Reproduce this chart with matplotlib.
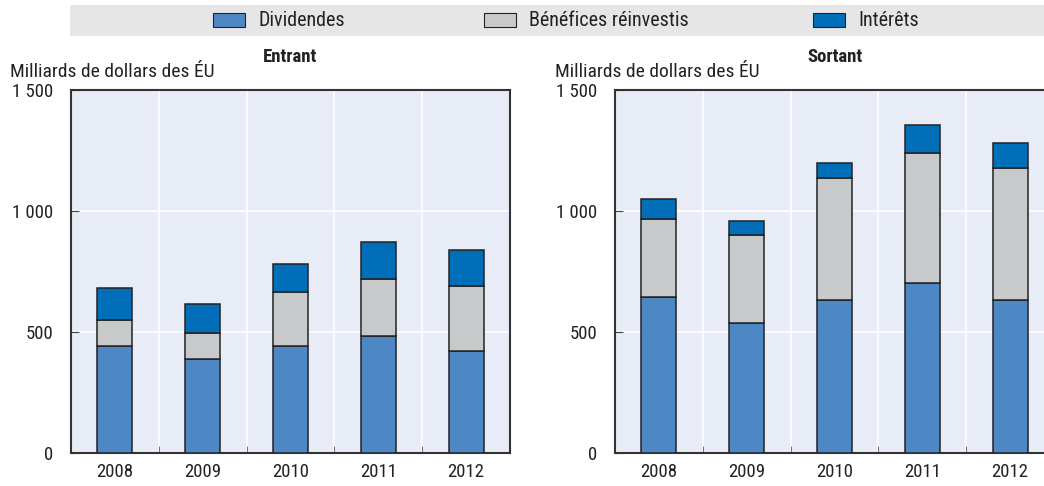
import matplotlib.pyplot as plt
import matplotlib.patches as mpatches
import numpy as np

plt.rcParams['font.family'] = ['Roboto Condensed', 'DejaVu Sans']

years = ['2008', '2009', '2010', '2011', '2012']
series = ['Dividendes', 'Bénéfices réinvestis', 'Intérêts']
colors = ['#4e87c5', '#c8c9cb', '#006eb8']

# Entrant (milliards USD)
in_div = [444, 388, 443, 485, 421]
in_reinv = [105, 107, 221, 236, 269]
in_int = [132, 120, 116, 152, 149]

# Sortant
out_div = [646, 539, 634, 704, 634]
out_reinv = [322, 361, 503, 537, 545]
out_int = [83, 59, 60, 113, 104]

fig = plt.figure(figsize=(10.44, 4.86), dpi=100)
W, H = 1044, 486

def draw(ax, vals, title, ylab_x):
    x = np.arange(len(years))
    bottom = np.zeros(len(years))
    for v, c in zip(vals, colors):
        ax.bar(x, v, 0.4, bottom=bottom, color=c, edgecolor='#222222', linewidth=1.1, zorder=3)
        bottom += np.array(v)
    ax.set_facecolor('#e8ecf7')
    ax.set_xlim(-0.5, 4.5)
    ax.set_ylim(0, 1500)
    ax.set_yticks([0, 500, 1000, 1500])
    ax.set_yticklabels(['0', '500', '1 000', '1 500'])
    ax.set_xticks(x)
    ax.set_xticklabels(years)
    ax.set_xticks(np.arange(0.5, 4.5, 1), minor=True)
    ax.tick_params(axis='x', which='major', length=0, pad=7, labelsize=13.5, labelcolor='#222222')
    ax.tick_params(axis='x', which='minor', direction='in', length=5, color='#555555')
    ax.tick_params(axis='y', direction='in', length=6, pad=13, labelsize=13.5, color='#444444',
                   labelcolor='#222222')
    ax.grid(True, axis='y', color='white', linewidth=1.2, zorder=0)
    ax.grid(True, axis='x', which='minor', color='white', linewidth=1.2, zorder=0)
    for s in ax.spines.values():
        s.set_color('#333333')
        s.set_linewidth(1.5)
    pos = ax.get_position()
    fig.text((pos.x0 + pos.x1) / 2, 1 - 57 / H, title, fontsize=13.5, fontweight='bold',
             ha='center', va='center', color='#222222')
    fig.text(ylab_x / W, 1 - 72 / H, 'Milliards de dollars des ÉU', fontsize=14, ha='left',
             va='center', color='#222222')

ax1 = fig.add_axes([71 / W, 1 - 453 / H, 439 / W, 363 / H])
draw(ax1, [in_div, in_reinv, in_int], 'Entrant', 10)
ax2 = fig.add_axes([615 / W, 1 - 453 / H, 439 / W, 363 / H])
draw(ax2, [out_div, out_reinv, out_int], 'Sortant', 555)

# legend band
fig.patches.append(mpatches.Rectangle((70 / W, 1 - 36 / H), 1 - 70 / W, 31 / H,
                                      transform=fig.transFigure, facecolor='#e6e6e6', edgecolor='none'))
for name, c, px in zip(series, colors, [213, 484, 813]):
    fig.patches.append(mpatches.Rectangle((px / W, 1 - 27 / H), 32 / W, 14 / H,
                                          transform=fig.transFigure, facecolor=c,
                                          edgecolor='#222222', linewidth=0.8))
    fig.text((px + 45) / W, 1 - 21 / H, name, fontsize=14.5, ha='left', va='center', color='#222222')

fig.savefig('out.png', dpi=100)
